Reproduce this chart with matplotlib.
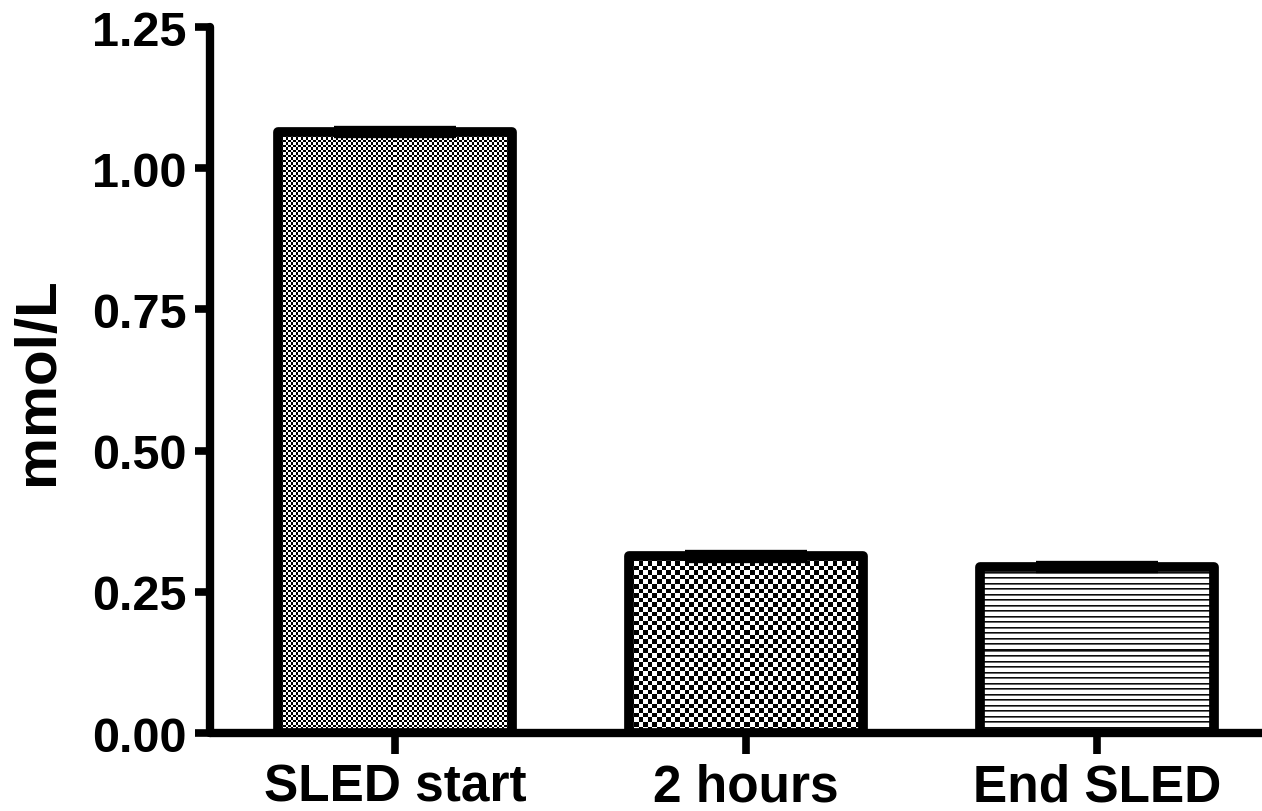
import numpy as np
import matplotlib
matplotlib.use("Agg")
import matplotlib.pyplot as plt

categories = ["SLED start", "2 hours", "End SLED"]
means = [1.064, 0.313, 0.294]
sem = [0.004, 0.004, 0.004]
y_ticks = [0.00, 0.25, 0.50, 0.75, 1.00, 1.25]
y_tick_labels = ["0.00", "0.25", "0.50", "0.75", "1.00", "1.25"]

plt.rcParams["font.family"] = ["Liberation Sans", "DejaVu Sans"]
plt.rcParams["font.weight"] = "bold"

DPI = 100
fig = plt.figure(figsize=(12.62, 8.12), dpi=DPI)
ax = fig.add_axes([0.1664, 0.0960, 0.8336, 0.8695])

x = np.arange(len(categories))
bar_width = 0.665
bars = ax.bar(x, means, width=bar_width, facecolor="none", edgecolor="black",
              linewidth=7, joinstyle="round", zorder=3)
ax.errorbar(x, means, yerr=sem, fmt="none", ecolor="black", elinewidth=6,
            capsize=44, capthick=6, zorder=4)

ax.set_xlim(-0.527, 2.47)
ax.set_ylim(0, 1.25)
ax.set_yticks(y_ticks)
ax.set_yticklabels(y_tick_labels)
ax.set_xticks(x)
ax.set_xticklabels(categories)
ax.set_ylabel("mmol/L", fontsize=42, fontweight="bold", labelpad=19)

for side in ("top", "right"):
    ax.spines[side].set_visible(False)
for side in ("left", "bottom"):
    ax.spines[side].set_linewidth(6)
    ax.spines[side].set_capstyle("round")
ax.tick_params(axis="y", length=11, width=5.5, pad=6, labelsize=35)
ax.tick_params(axis="x", length=15, width=5.5, pad=6, labelsize=37)
for lbl in ax.get_xticklabels() + ax.get_yticklabels():
    lbl.set_fontweight("bold")

fig.canvas.draw()


def checker(h, w, cell):
    yy, xx = np.mgrid[0:h, 0:w]
    return ((np.floor(yy / cell) + np.floor(xx / cell)) % 2).astype(float)


def hlines(h, w, period):
    yy = np.mgrid[0:h, 0:w][0]
    phase = np.floor(yy / period)
    first_row = np.floor(yy - phase * period) == 0
    second_row = np.floor(yy - phase * period) == 1
    img = np.zeros((h, w))
    img[first_row] = 0.95
    img[second_row] = 0.6
    return img


patterns = [lambda h, w: checker(h, w, 2.5),
            lambda h, w: checker(h, w, 4.6),
            lambda h, w: hlines(h, w, 5.5)]

for bar, make in zip(bars, patterns):
    bb = bar.get_window_extent()
    w = max(int(round(bb.width)), 1)
    h = max(int(round(bb.height)), 1)
    img = make(h, w)
    x0, y0 = bar.get_x(), bar.get_y()
    x1, y1 = x0 + bar.get_width(), y0 + bar.get_height()
    im = ax.imshow(img, cmap="gray_r", vmin=0, vmax=1, interpolation="nearest",
                   extent=(x0, x1, y0, y1), aspect="auto", origin="upper",
                   zorder=2.5)
    im.set_clip_path(bar)

ax.set_xlim(-0.527, 2.47)
ax.set_ylim(0, 1.25)

fig.savefig("out.png", dpi=DPI)
